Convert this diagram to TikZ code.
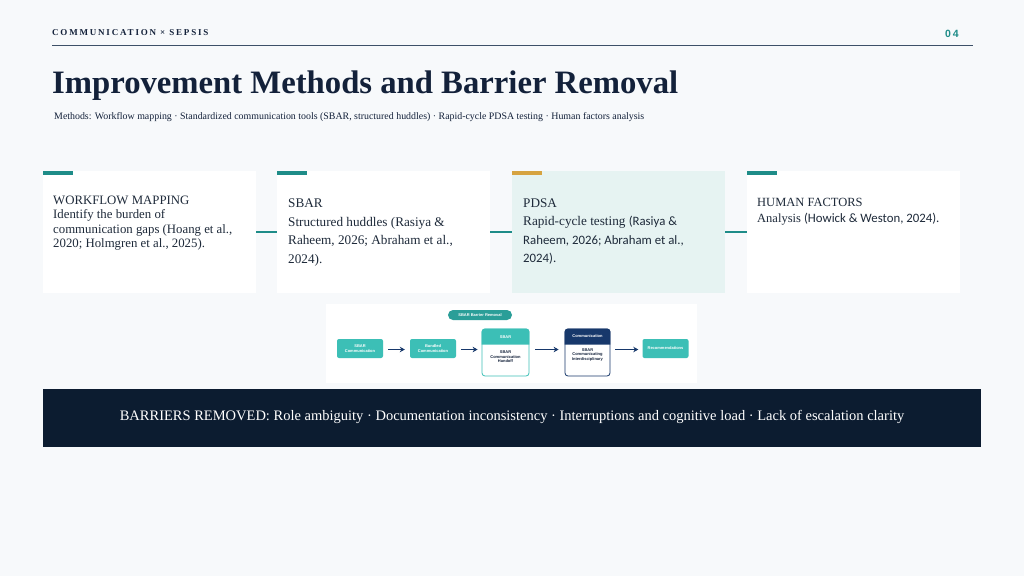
\documentclass[tikz,border=0pt]{standalone}
\usepackage{fontspec}
\setmainfont{Liberation Serif}
\newfontfamily\sansf{Carlito}
\newfontfamily\arialf{Liberation Sans}
\usetikzlibrary{arrows.meta}
\definecolor{bgc}{HTML}{F7F9FB}
\definecolor{navytxt}{HTML}{13213A}
\definecolor{bodytxt}{HTML}{1E2A3A}
\definecolor{tealc}{HTML}{1E8C88}
\definecolor{goldc}{HTML}{D6A340}
\definecolor{pdsafill}{HTML}{E6F3F2}
\definecolor{bandc}{HTML}{0C1C30}
\definecolor{rulec}{HTML}{3D5068}
\definecolor{imgteal}{HTML}{3CBFB6}
\definecolor{imgnavy}{HTML}{17386B}
\definecolor{pillc}{HTML}{2A9E98}
\tikzset{
  card/.style={fill=white, draw=none, minimum width=213pt, minimum height=122pt, anchor=north west, inner sep=0},
  cardtxt/.style={anchor=north west, inner sep=0, align=left, text=bodytxt},
  conn/.style={draw=tealc, line width=2pt},
  ibox/.style={fill=imgteal, rounded corners=2pt, minimum width=46pt, minimum height=19pt, inner sep=0, text=white, align=center, font=\arialf\bfseries\fontsize{4}{4.6}\selectfont},
  iarrow/.style={draw=imgnavy, line width=1.5pt, -{Stealth[length=5pt,width=5.5pt]}},
}
\begin{document}
\begin{tikzpicture}[x=1pt,y=-1pt]
\fill[bgc] (0,0) rectangle (1024,576);
\useasboundingbox (0,0) rectangle (1024,576);

% header
\node[anchor=base west, inner sep=0, text=navytxt, font=\fontsize{9}{10}\selectfont\bfseries\addfontfeatures{LetterSpace=20}] (kicker) at (52,35) {COMMUNICATION × SEPSIS};
\node[anchor=base east, inner sep=0, text=tealc, font=\arialf\fontsize{10.5}{12}\selectfont\bfseries\addfontfeatures{LetterSpace=18}] (pagenum) at (959,37) {04};
\coordinate (ruleL) at (52,45);
\coordinate (ruleR) at (973,45);
\draw[rulec, line width=1pt] (ruleL) -- (ruleR);

\node[anchor=base west, inner sep=0, text=navytxt, font=\fontsize{32.7}{36}\selectfont\bfseries] (title) at (52,93) {Improvement Methods and Barrier Removal};
\node[anchor=base west, inner sep=0, text=navytxt, font=\fontsize{9.9}{11}\selectfont] (subtitle) at (54,119) {Methods: Workflow mapping · Standardized communication tools (SBAR, structured huddles) · Rapid-cycle PDSA testing · Human factors analysis};

% cards
\node[card] (c1) at (43,171) {};
\node[card] (c2) at (277,171) {};
\node[card, fill=pdsafill] (c3) at (512,171) {};
\node[card] (c4) at (747,171) {};
\fill[tealc] (c1.north west) rectangle ++(30,4);
\fill[tealc] (c2.north west) rectangle ++(30,4);
\fill[goldc] (c3.north west) rectangle ++(30,4);
\fill[tealc] (c4.north west) rectangle ++(30,4);
\draw[conn] (c1.east) -- (c2.west);
\draw[conn] (c2.east) -- (c3.west);
\draw[conn] (c3.east) -- (c4.west);

\node[cardtxt, font=\fontsize{12.8}{14.5}\selectfont] (t1) at (53,195.5) {WORKFLOW MAPPING\\Identify the burden of\\communication gaps (Hoang et al.,\\2020; Holmgren et al., 2025).};
\node[cardtxt, font=\fontsize{13.2}{18.7}\selectfont] (t2) at (288,198.5) {SBAR\\Structured huddles (Rasiya \&\\Raheem, 2026; Abraham et al.,\\2024).};
\node[cardtxt, font=\fontsize{13.2}{18.5}\selectfont] (t3) at (523,198.5) {PDSA\\Rapid-cycle testing {\sansf\fontsize{12.8}{18.5}\selectfont (Rasiya \&}\\{\sansf\fontsize{12.8}{18.5}\selectfont Raheem, 2026; Abraham et al.,}\\{\sansf\fontsize{12.8}{18.5}\selectfont 2024).}};
\node[cardtxt, font=\fontsize{12.5}{16}\selectfont] (t4) at (757,198.5) {HUMAN FACTORS\\Analysis {\sansf\fontsize{12.8}{16}\selectfont (Howick \& Weston, 2024).}};

% embedded figure
\node[fill=white, minimum width=371pt, minimum height=79pt, anchor=north west, inner sep=0] (img) at (326,304) {};
\node[fill=pillc, rounded corners=5pt, minimum width=64pt, minimum height=10pt, inner sep=0, text=white, font=\arialf\bfseries\fontsize{4}{4.5}\selectfont] (pill) at (480,315) {SBAR Barrier Removal};
\node[ibox] (b1) at (360,348.5) {SBAR\\Communication};
\node[ibox] (b2) at (433,348.5) {Bundled\\Communication};
\node[draw=imgteal, line width=0.8pt, fill=white, rounded corners=3pt, minimum width=47pt, minimum height=47pt, inner sep=0] (b3) at (505.5,352.5) {};
\node[draw=imgnavy, line width=0.8pt, fill=white, rounded corners=3pt, minimum width=45pt, minimum height=47pt, inner sep=0] (b4) at (587.5,352.5) {};
\node[ibox] (b5) at (665.5,348.5) {Recommendations};
\fill[imgteal] ([yshift=-16pt]b3.north west) [rounded corners=3pt] -- (b3.north west) -- (b3.north east) [sharp corners] -- ([yshift=-16pt]b3.north east) -- cycle;
\fill[imgnavy] ([yshift=-16pt]b4.north west) [rounded corners=3pt] -- (b4.north west) -- (b4.north east) [sharp corners] -- ([yshift=-16pt]b4.north east) -- cycle;
\node[inner sep=0, text=white, font=\arialf\bfseries\fontsize{4}{4.5}\selectfont] (b3h) at (505.5,337) {SBAR};
\node[inner sep=0, text=white, font=\arialf\bfseries\fontsize{4}{4.5}\selectfont] (b4h) at (587.5,336) {Communication};
\node[inner sep=0, align=center, text=navytxt, font=\arialf\bfseries\fontsize{4}{4.6}\selectfont] (b3b) at (505.5,357) {SBAR\\Communication\\Handoff};
\node[inner sep=0, align=center, text=navytxt, font=\arialf\bfseries\fontsize{4}{4.6}\selectfont] (b4b) at (587.5,355) {SBAR\\Communicating\\Interdisciplinary};
\draw[iarrow] ([xshift=5pt,yshift=-1pt]b1.east) -- ([xshift=-5pt,yshift=-1pt]b2.west);
\draw[iarrow] ([xshift=5pt,yshift=-1pt]b2.east) -- ([xshift=-4pt,yshift=-1pt]b2.east -| b3.west);
\draw[iarrow] ([xshift=6pt,yshift=-1pt]b2.east -| b3.east) -- ([xshift=-6pt,yshift=-1pt]b2.east -| b4.west);
\draw[iarrow] ([xshift=5pt,yshift=-1pt]b2.east -| b4.east) -- ([xshift=-4pt,yshift=-1pt]b5.west);

% band
\node[fill=bandc, minimum width=938pt, minimum height=58pt, anchor=north west, inner sep=0] (band) at (43,389) {};
\node[anchor=base, inner sep=0, text=white, font=\fontsize{14.5}{16}\selectfont] (bandtxt) at (512,420) {BARRIERS REMOVED: Role ambiguity · Documentation inconsistency · Interruptions and cognitive load · Lack of escalation clarity};
\end{tikzpicture}
\end{document}
